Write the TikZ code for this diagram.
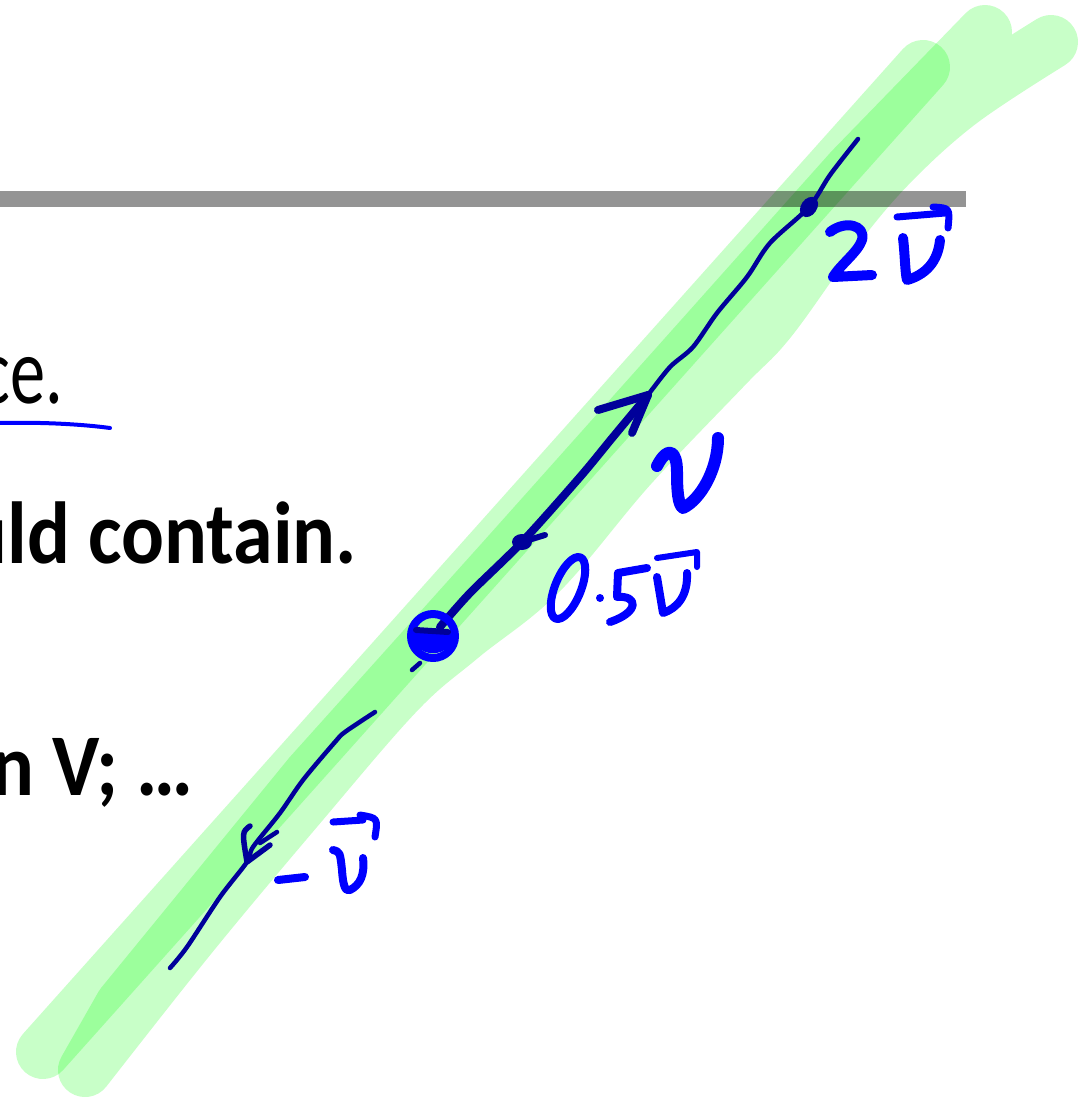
\documentclass[tikz,border=0pt]{standalone}
\usepackage{xcolor}
\usepackage{fontspec}
\setmainfont{Carlito}
\definecolor{hlgreen}{HTML}{C8FFC8}
\definecolor{inknavy}{HTML}{00009A}
\definecolor{inkblue}{HTML}{0000FF}
\definecolor{rulegray}{HTML}{949494}
\usepackage{pgf,tikz}
\usetikzlibrary{calc}
\tikzset{
  hilite/.style={draw=hlgreen, line width=54pt, line cap=round, line join=round},
  ink/.style={draw=inknavy, line width=4.5pt, line cap=round, line join=round},
  inkthick/.style={ink, line width=8pt},
  pen/.style={draw=inkblue, line width=10pt, line cap=round, line join=round},
  slide/.style={inner sep=0pt, anchor=base east, font=\fontsize{80}{96}\selectfont\bfseries},
  slidereg/.style={inner sep=0pt, anchor=base east, font=\fontsize{88}{100}\selectfont},
}

\begin{document}
\begin{tikzpicture}[x=1pt, y=-1pt]
  \useasboundingbox (0,0) rectangle (1084,1097);
  \clip (0,0) rectangle (1084,1097);

  % slide text, cut off at the left
  \node[slidereg] (ce) at (63,403) {\scalebox{0.8}[1.08]{ce.}};
  \node[slide] (contain) at (357,563) {\scalebox{1}[1.1]{uld contain.}};
  \node[slide] (inV) at (194,795) {\scalebox{1}[1.1]{n V; …}};
  \draw[pen, line width=4pt] (-2,423) .. controls (40,422) and (80,424) .. (110,428);

  % title rule
  \fill[rulegray] (0,191) rectangle (966,207);

  % highlighter strokes
  \begin{scope}[blend mode=multiply]
    \draw[hilite] (923,67) -- (43,1052);
    \draw[hilite] plot[smooth, tension=0.6] coordinates {(1051,42) (960,102) (890,165)
      (835,230) (770,320) (725,367) (630,467) (540,573) (461,637) (397,693)
      (296,810) (190,937) (85,1070)}
      -- (122,1005) -- (310,775) -- (503,560) -- (686,355) -- (851,170) -- (985,32);
  \end{scope}

  % the line through v
  \coordinate (o) at (433,636);
  \coordinate (half) at (522,542);
  \coordinate (tip) at (648,395);
  \coordinate (dbl) at (809,207);
  \coordinate (neg) at (247,862);

  \draw[ink] plot[smooth] coordinates {(tip) (670,367) (693,347) (717,313) (747,277)
    (770,243) (dbl) (830,175) (858,139)};
  \fill[inknavy, rotate around={-35:(dbl)}] (dbl) ellipse (8 and 11);
  \draw[inkthick] plot[smooth] coordinates {(440,627) (470,593) (half) (580,477) (613,437) (tip)};
  \draw[inkthick] (598,410) -- (tip) -- (632,433);
  \fill[inknavy] (half) ellipse (10 and 8);
  \draw[ink, line width=6pt] (half) -- (545,535);

  \draw[ink] plot[smooth] coordinates {(375,712) (345,732) (335,742) (303,780) (280,813)
    (253,847) (neg) (220,897) (187,947) (170,968)};
  \draw[ink, line width=5.5pt] (250,826) .. controls (242,832) .. (neg) -- (270,845);
  \draw[ink] (260,843) -- (277,832);

  % origin: ring, filled below
  \fill[inkblue] (411,630) .. controls (411,661) and (455,661) .. (455,630) -- cycle;
  \draw[pen, line width=8pt] (o) circle (22);
  \draw[ink, line width=6pt] (416,630) -- (448,632);
  \draw[ink] (412,670) -- (420,663);

  % labels
  \draw[pen] (830,232) .. controls (845,220) and (866,225) .. (862,240)
    .. controls (858,252) and (840,265) .. (833,277) -- (872,275);
  \draw[pen] (903,238) .. controls (905,255) and (905,272) .. (907,280)
    .. controls (925,275) and (938,262) .. (940,240);
  \draw[pen, line width=7pt] (897,217) -- (945,213);
  \draw[pen, line width=7pt] (933,207) .. controls (950,208) .. (948,228);

  \draw[pen, line width=12pt] (657,466) .. controls (668,445) and (677,450) .. (677,472)
    .. controls (677,490) and (678,505) .. (683,508)
    .. controls (700,500) and (718,470) .. (718,438);

  \draw[pen, line width=8pt, rotate around={-22:(568,588)}] (568,588) ellipse (13 and 33);
  \fill[inkblue] (600,598) circle (4);
  \draw[pen, line width=8pt] (647,568) -- (618,573) -- (617,597)
    .. controls (638,595) and (640,612) .. (610,622);
  \draw[pen, line width=8pt] (657,577) .. controls (660,595) .. (663,613)
    .. controls (678,608) and (688,595) .. (687,573);
  \draw[pen, line width=6pt] (657,558) -- (697,552) -- (697,567);

  \draw[pen, line width=8pt] (278,880) -- (305,877);
  \draw[pen, line width=8pt] (333,850) .. controls (340,852) .. (342,870)
    .. controls (343,885) and (345,892) .. (350,890)
    .. controls (360,885) and (365,875) .. (363,858);
  \draw[pen, line width=7pt] (333,822) -- (363,820);
  \draw[pen, line width=7pt] (360,815) .. controls (378,818) .. (375,837);
\end{tikzpicture}
\end{document}
